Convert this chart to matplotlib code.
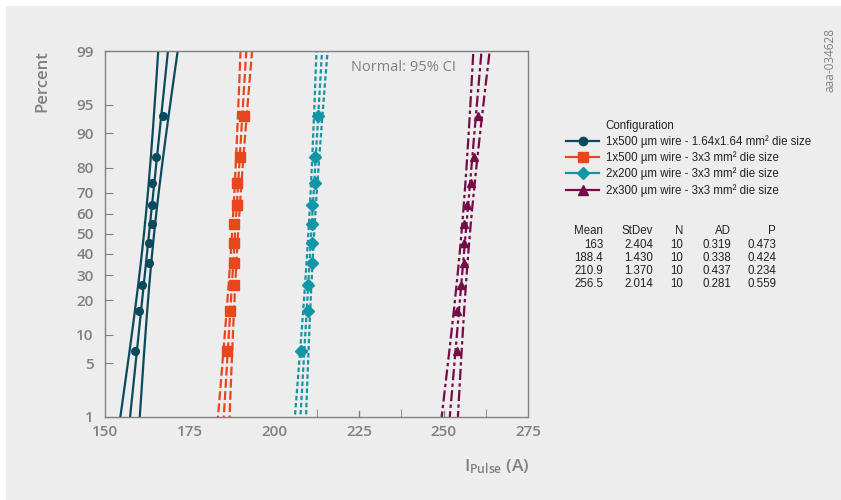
import math
import numpy as np
import matplotlib
matplotlib.use("Agg")
import matplotlib.pyplot as plt
from matplotlib.patches import Rectangle
from matplotlib.lines import Line2D

# Dados (valores inteiros, conferem com a tabela Mean/StDev)
labels = [
    "1x500 µm wire - 1.64x1.64 mm² die size",
    "1x500 µm wire - 3x3 mm² die size",
    "2x200 µm wire - 3x3 mm² die size",
    "2x300 µm wire - 3x3 mm² die size",
]
serie_1 = [159, 160, 161, 163, 163, 164, 164, 164, 165, 167]
serie_2 = [186, 187, 188, 188, 188, 188, 189, 189, 190, 191]
serie_3 = [208, 210, 210, 211, 211, 211, 211, 212, 212, 213]
serie_4 = [254, 254, 255, 256, 256, 256, 257, 258, 259, 260]
series = [serie_1, serie_2, serie_3, serie_4]

tabela_header = ["Mean", "StDev", "N", "AD", "P"]
tabela = [
    ["163", "2.404", "10", "0.319", "0.473"],
    ["188.4", "1.430", "10", "0.338", "0.424"],
    ["210.9", "1.370", "10", "0.437", "0.234"],
    ["256.5", "2.014", "10", "0.281", "0.559"],
]
yticks = [1, 5, 10, 20, 30, 40, 50, 60, 70, 80, 90, 95, 99]
xticks = [150, 175, 200, 225, 250, 275]

cores = ["#0b4a5c", "#e8461c", "#1196a6", "#730c47"]
estilos = ["-", (0, (4, 1.5)), (0, (2, 1.2)), (0, (5, 1.5, 1.5, 1.5))]
marcadores = ["o", "s", "D", "^"]
tamanhos = [5.5, 6.5, 6, 6]

BG = "#ededed"
GRAY = "#808080"


# Inversa da normal padrão (aproximação de Acklam)
def norm_ppf(p):
    p = np.clip(np.asarray(p, dtype=float), 1e-12, 1 - 1e-12)
    a = [-3.969683028665376e+01, 2.209460984245205e+02, -2.759285104469687e+02,
         1.383577518672690e+02, -3.066479806614716e+01, 2.506628277459239e+00]
    b = [-5.447609879822406e+01, 1.615858368580409e+02, -1.556989798598866e+02,
         6.680131188771972e+01, -1.328068155288572e+01]
    c = [-7.784894002430293e-03, -3.223964580411365e-01, -2.400758277161838e+00,
         -2.549732539343734e+00, 4.374664141464968e+00, 2.938163982698783e+00]
    d = [7.784695709041462e-03, 3.224671290700398e-01, 2.445134137142996e+00,
         3.754408661907416e+00]
    plow = 0.02425
    out = np.zeros_like(p)
    lo = p < plow
    hi = p > 1 - plow
    mid = ~(lo | hi)
    q = np.sqrt(-2 * np.log(p[lo]))
    out[lo] = (((((c[0]*q+c[1])*q+c[2])*q+c[3])*q+c[4])*q+c[5]) / ((((d[0]*q+d[1])*q+d[2])*q+d[3])*q+1)
    q = p[mid] - 0.5
    r = q * q
    out[mid] = (((((a[0]*r+a[1])*r+a[2])*r+a[3])*r+a[4])*r+a[5])*q / (((((b[0]*r+b[1])*r+b[2])*r+b[3])*r+b[4])*r+1)
    q = np.sqrt(-2 * np.log(1 - p[hi]))
    out[hi] = -(((((c[0]*q+c[1])*q+c[2])*q+c[3])*q+c[4])*q+c[5]) / ((((d[0]*q+d[1])*q+d[2])*q+d[3])*q+1)
    return out


_erf = np.vectorize(math.erf)


def norm_cdf(z):
    return 0.5 * (1 + _erf(np.asarray(z, dtype=float) / math.sqrt(2)))


def fwd(y):
    return norm_ppf(np.asarray(y, dtype=float) / 100.0)


def inv(z):
    return norm_cdf(z) * 100.0


fig = plt.figure(figsize=(8.41, 5.0), dpi=100, facecolor="white")
fig.patches.append(Rectangle((6 / 841, 0), 1, 1 - 6 / 500, transform=fig.transFigure,
                             facecolor=BG, edgecolor="none", zorder=-10))

ax = fig.add_axes([105 / 841, 1 - 416.7 / 500, (528.3 - 105) / 841, (416.7 - 51) / 500])
ax.set_facecolor("none")
ax.set_yscale("function", functions=(fwd, inv))
ax.set_ylim(1, 99)
ax.set_xlim(150, 275)

z = np.linspace(-3.2, 3.2, 300)
pct = inv(z)
n = 10
handles = []
for dados, cor, ls, mk, ms in zip(series, cores, estilos, marcadores, tamanhos):
    x = np.sort(np.array(dados, dtype=float))
    m = x.mean()
    s = x.std(ddof=1)
    # posições de plotagem (mediana de Bernard)
    ranks = (np.arange(1, n + 1) - 0.3) / (n + 0.4) * 100
    fit = m + z * s
    se = s * np.sqrt(1 / n + z ** 2 / (2 * n))
    for curva in (fit, fit - 1.96 * se, fit + 1.96 * se):
        ax.plot(curva, pct, color=cor, lw=1.6, linestyle=ls, zorder=2)
    ax.plot(x, ranks, linestyle="none", marker=mk, color=cor, markersize=ms, zorder=3)
    handles.append(Line2D([], [], color=cor, lw=1.6, marker=mk, markersize=ms + 0.5))

ax.set_yticks(yticks)
ax.set_yticklabels([str(v) for v in yticks])
ax.yaxis.set_minor_locator(matplotlib.ticker.NullLocator())
ax.set_xticks(xticks)
ax.set_xticks([175, 200, 212.5, 237.5, 262.5], minor=True)
ax.tick_params(axis="x", which="major", length=0, pad=6)
ax.tick_params(axis="x", which="minor", length=6, direction="in", color=GRAY)
ax.tick_params(axis="y", length=6, direction="in", color=GRAY, pad=8)
ax.tick_params(labelsize=11, labelcolor=GRAY)
for lab in ax.get_xticklabels() + ax.get_yticklabels():
    lab.set_fontfamily("Open Sans")
    lab.set_fontweight("semibold")
# marcas 225 e 250 também aparecem
for t in (225, 250):
    ax.axvline(t, ymin=0, ymax=6 / 365.7, color=GRAY, lw=1)
for sp in ax.spines.values():
    sp.set_color(GRAY)
    sp.set_linewidth(1.0)

ax.text(0.705, 0.955, "Normal: 95% CI", transform=ax.transAxes, ha="center", va="center",
        fontsize=10.5, color=GRAY, family="Open Sans")

fig.text(42 / 841, 1 - 81 / 500, "Percent", rotation=90, ha="center", va="center",
         fontsize=12, color=GRAY, family="Open Sans", fontweight="semibold")

plt.rcParams["mathtext.fontset"] = "custom"
plt.rcParams["mathtext.rm"] = "Open Sans:semibold"
fig.text(497 / 841, 1 - 467 / 500, r"$\mathrm{I_{Pulse}}$ (A)", ha="center", va="center",
         fontsize=12.5, color=GRAY, family="Open Sans", fontweight="semibold")

fig.text(830 / 841, 1 - 60 / 500, "aaa-034628", rotation=90, ha="center", va="center",
         fontsize=8.5, color=GRAY, family="Open Sans")

# legenda
fig.text(605 / 841, 1 - 126 / 500, "Configuration", ha="left", va="center",
         fontsize=8.3, color="#222222", family="Liberation Sans")
leg = fig.legend(handles, labels, loc="upper left", bbox_to_anchor=(566 / 841, 1 - 135 / 500),
                 frameon=False, handlelength=2.9, handletextpad=0.6, labelspacing=0.3,
                 borderaxespad=0, borderpad=0, prop={"family": "Liberation Sans", "size": 8.3})
for t in leg.get_texts():
    t.set_color("#222222")

# tabela de estatísticas
col_x = [603, 653, 683, 731, 776]
row_y = [231, 245, 258, 271, 284]
for j, h in enumerate(tabela_header):
    fig.text(col_x[j] / 841, 1 - row_y[0] / 500, h, ha="right", va="center",
             fontsize=8.3, color="#222222", family="Liberation Sans")
for i, linha in enumerate(tabela):
    for j, v in enumerate(linha):
        fig.text(col_x[j] / 841, 1 - row_y[i + 1] / 500, v, ha="right", va="center",
                 fontsize=8.3, color="#222222", family="Liberation Sans")

plt.savefig("out.png", dpi=100, facecolor="white")
